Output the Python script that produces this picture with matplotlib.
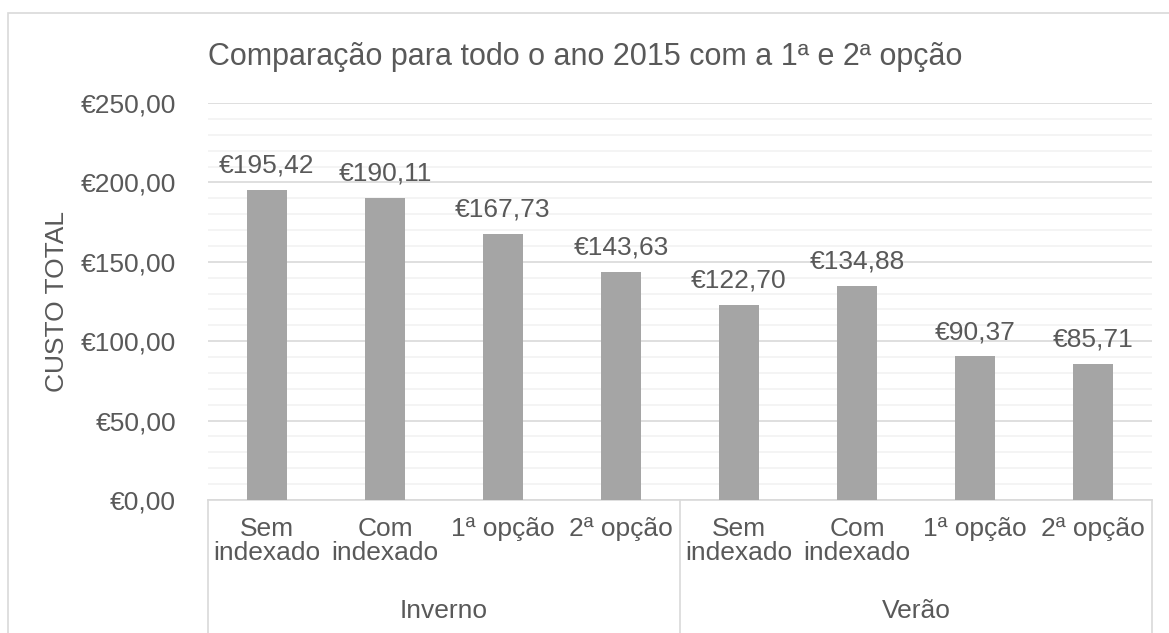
import matplotlib.pyplot as plt
from matplotlib.ticker import FuncFormatter, MultipleLocator
from matplotlib.patches import Rectangle
from matplotlib.lines import Line2D

plt.rcParams['font.family'] = ['Liberation Sans', 'DejaVu Sans']

groups = ["Inverno", "Verão"]
categories = ["Sem\nindexado", "Com\nindexado", "1ª opção", "2ª opção"]
valores = [195.42, 190.11, 167.73, 143.63, 122.70, 134.88, 90.37, 85.71]

txt = "#595959"
fs = 19
fig = plt.figure(figsize=(11.69, 6.33), dpi=100)
ax = fig.add_axes([208/1169, 1 - 500/633, (1152 - 208)/1169, (500 - 103)/633])

# moldura do gráfico
fig.patches.append(Rectangle((8/1169, -0.1), 1.2, 1 - 13/633 + 0.1,
                             transform=fig.transFigure, fill=False,
                             edgecolor="#D9D9D9", lw=1.2))

labels = categories * len(groups)
x = list(range(len(valores)))
bars = ax.bar(x, valores, width=0.34, color="#A5A5A5", zorder=3)

def euro(v, pos=None):
    return "€" + f"{v:,.2f}".replace(",", " ").replace(".", ",")

for b, v in zip(bars, valores):
    ax.annotate(euro(v), (b.get_x() + b.get_width()/2, v), xytext=(0, 12.5),
                textcoords="offset points", ha="center", va="baseline",
                fontsize=fs, color=txt)

ax.set_xlim(-0.5, len(valores) - 0.5)
ax.set_ylim(0, 250)
ax.yaxis.set_major_locator(MultipleLocator(50))
ax.yaxis.set_minor_locator(MultipleLocator(10))
ax.yaxis.set_major_formatter(FuncFormatter(euro))
ax.grid(axis="y", which="major", color="#D9D9D9", lw=1.2, zorder=0)
ax.grid(axis="y", which="minor", color="#F2F2F2", lw=1.2, zorder=0)
ax.tick_params(axis="y", which="both", length=0, labelsize=fs, labelcolor=txt, pad=23)

ax.set_xticks(x)
ax.set_xticklabels(labels, fontsize=fs, color=txt, linespacing=1.02)
ax.tick_params(axis="x", length=0, pad=12)

for s in ["top", "right", "left"]:
    ax.spines[s].set_visible(False)
ax.spines["bottom"].set_color("#D9D9D9")
ax.spines["bottom"].set_linewidth(1.2)

# separadores dos grupos
n = len(categories)
for k in range(len(groups) + 1):
    xs = k * n - 0.5
    ax.add_line(Line2D([xs, xs], [0, -0.4], transform=ax.get_xaxis_transform(),
                       color="#D9D9D9", lw=1.2, clip_on=False))
for k, g in enumerate(groups):
    ax.text(k * n + (n - 1) / 2, -(611 - 500) / 397, g, transform=ax.get_xaxis_transform(),
            ha="center", va="center", fontsize=fs, color=txt)

ax.set_ylabel("CUSTO TOTAL", fontsize=fs, color=txt)
ax.yaxis.set_label_coords(-(208 - 69) / 944, 0.5)
fig.text(585/1169, 1 - 57/633, "Comparação para todo o ano 2015 com a 1ª e 2ª opção",
         ha="center", va="center", fontsize=22, color=txt)

fig.savefig("out.png", dpi=100)
